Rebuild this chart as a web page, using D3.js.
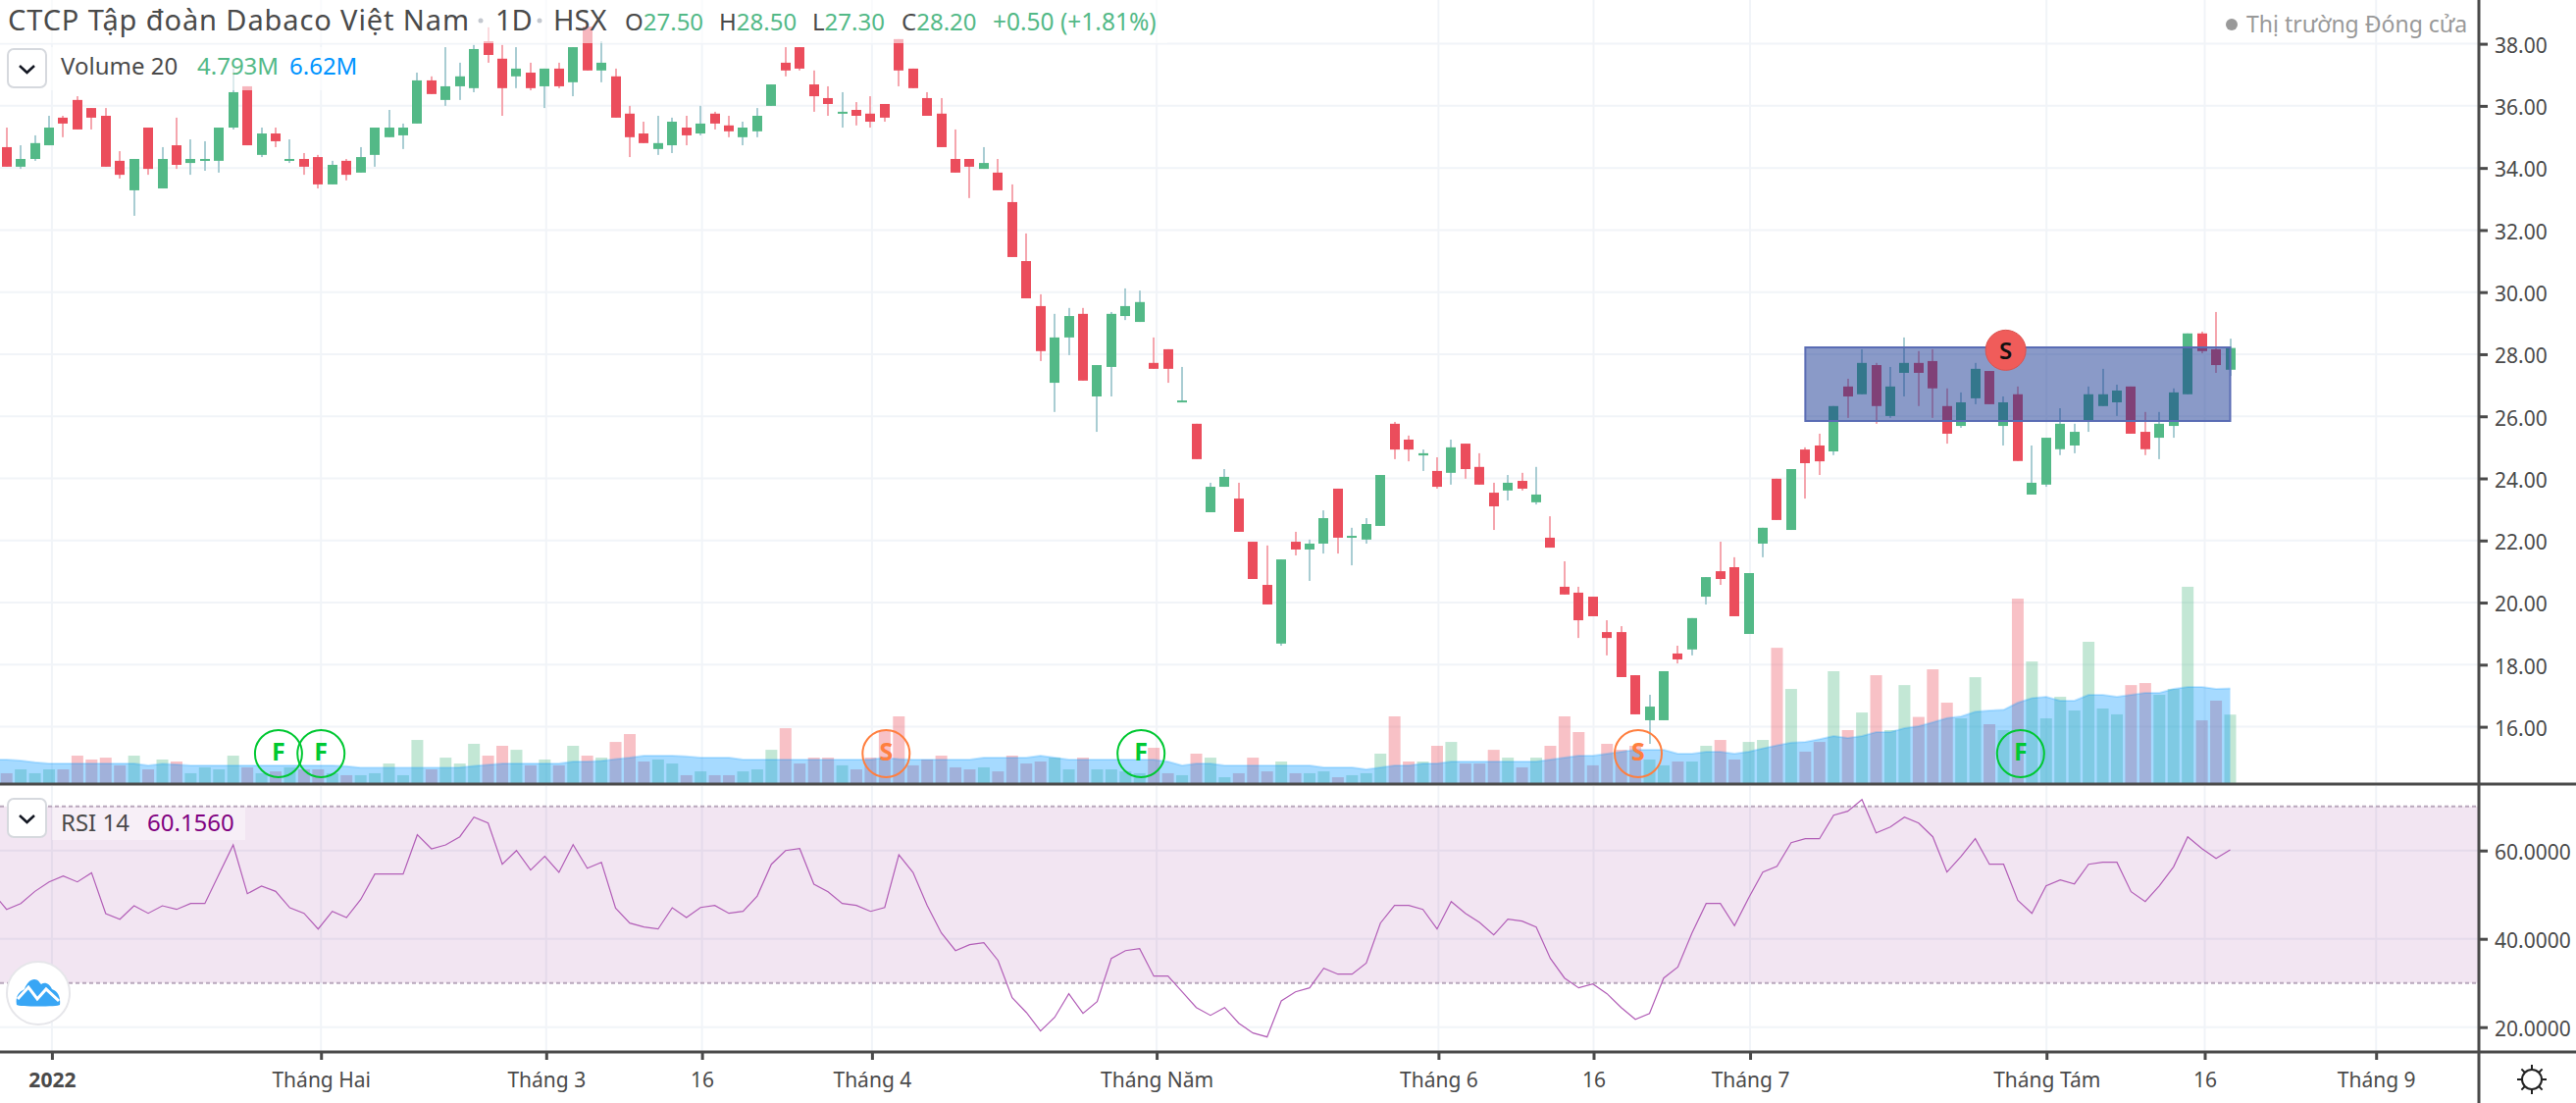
<!DOCTYPE html>
<html>
<head>
<meta charset="utf-8">
<title>DBC</title>
<script src="https://cdn.jsdelivr.net/npm/d3@7/dist/d3.min.js"></script>
<style>
    html, body { margin: 0; padding: 0; background: #fff; }
    svg { display: block; }
    text { font-family: "Noto Sans", sans-serif; }
    .axis path { display: none; }
    .axis line { stroke: #4a4a4a; stroke-width: 3; }
    .axis text { fill: #4a4a4a; font-size: 21px; }
</style>
</head>
<body>
<svg id="chart" width="2626" height="1124"></svg>
<script>
// one entry per session, left to right
const opens = [34.67,34.04,34.29,34.73,35.62,36.19,35.93,35.68,34.23,33.28,35.3,33.34,34.73,34.16,34.23,34.23,35.3,36.63,34.42,35.11,
    34.23,34.29,34.35,33.47,34.23,33.85,34.42,34.99,35.05,35.43,36.82,36.19,36.63,36.57,38.08,37.52,36.95,37.07,36.63,37.2,
    36.76,38.55,37.14,36.95,35.75,35.11,34.61,34.73,35.3,35.11,35.75,35.37,34.99,35.18,36.0,37.39,37.89,36.69,36.25,35.75,
    35.87,35.75,36.06,38.15,37.2,36.25,35.75,34.29,34.29,33.97,33.85,32.9,31.0,29.55,27.08,28.54,29.3,26.64,27.59,29.23,
    29.04,27.72,28.16,26.45,25.76,22.91,23.73,23.35,21.96,20.57,18.68,21.96,21.71,21.9,23.67,22.09,22.03,22.47,25.76,25.25,
    24.74,24.24,24.18,25.12,24.37,23.54,23.61,23.92,23.23,22.09,20.51,20.32,20.19,19.05,19.05,17.66,16.21,16.21,18.36,18.49,
    20.19,21.01,21.14,18.99,21.9,23.99,22.34,24.93,25.06,24.87,26.96,26.71,27.65,26.01,27.4,27.72,27.78,26.33,25.69,26.58,
    27.46,25.69,26.71,23.48,23.8,24.94,25.06,25.88,26.33,26.45,26.96,25.5,25.31,25.69,26.71,28.67,28.16,27.5];
const highs = [35.3,34.73,35.05,35.68,35.68,36.31,35.93,35.93,34.54,34.29,35.3,34.67,35.62,34.92,34.86,35.3,37.2,36.63,35.3,35.3,
    34.92,34.48,34.42,34.23,34.29,34.67,35.3,35.87,35.43,37.07,36.95,37.89,37.39,37.96,38.53,37.96,37.89,37.39,37.2,37.39,
    37.89,38.55,38.08,37.2,36.0,35.49,35.68,35.62,35.68,36.0,35.81,35.68,35.49,35.93,36.69,37.89,37.89,37.14,36.63,36.44,
    36.12,36.31,36.06,38.15,37.2,36.44,36.25,35.24,34.29,34.67,34.29,33.47,31.89,29.93,29.3,29.49,29.49,27.65,29.36,30.12,
    30.05,28.54,28.16,27.59,25.76,23.86,24.3,23.86,21.96,21.84,21.39,22.28,22.03,22.97,23.67,22.41,22.72,24.11,25.82,25.38,
    24.93,24.68,25.25,25.12,24.81,23.86,24.11,24.18,24.37,22.78,21.33,20.51,20.19,19.43,19.24,17.66,17.03,17.79,18.61,19.5,
    20.82,21.96,21.46,20.95,22.41,23.99,24.3,25.0,25.44,26.33,27.21,28.16,27.72,27.59,28.54,28.1,28.16,26.9,26.77,27.72,
    27.46,26.64,26.96,25.06,25.31,26.26,25.76,26.96,27.53,27.02,26.96,26.14,26.14,26.9,28.67,28.73,29.36,28.5];
const lows = [34.04,33.97,34.23,34.73,34.99,35.24,35.24,34.04,33.66,32.46,33.78,33.34,33.97,33.78,33.91,33.85,35.24,34.73,34.35,34.67,
    34.16,33.78,33.34,33.47,33.6,33.85,34.04,34.99,34.61,35.43,36.38,36.0,36.19,36.44,37.39,35.68,36.57,36.5,35.93,36.57,
    36.31,37.14,36.76,35.62,34.35,34.8,34.42,34.48,34.73,35.05,35.24,34.99,34.73,34.99,36.0,36.95,37.14,35.81,35.68,35.3,
    35.37,35.3,35.49,36.63,36.57,35.68,34.67,33.85,33.03,33.97,33.28,31.13,29.8,27.78,26.14,27.97,27.15,25.5,26.64,29.1,
    29.04,27.53,27.08,26.45,24.62,22.91,23.73,22.28,20.76,19.94,18.61,21.52,20.7,21.58,21.58,21.2,21.9,22.47,24.62,24.55,
    24.24,23.67,23.8,23.99,23.8,22.34,23.29,23.61,23.16,21.77,20.26,18.86,19.56,18.3,17.6,16.4,15.45,16.21,18.04,18.3,
    19.94,20.57,19.56,18.99,21.46,22.66,22.34,23.35,24.11,24.75,25.95,26.71,25.76,25.95,26.64,26.33,25.95,25.12,25.63,26.39,
    26.39,25.06,24.56,23.48,23.73,24.75,24.81,25.5,26.33,26.01,25.44,24.75,24.62,25.31,26.71,28.03,27.4,27.3];
const closes = [34.04,34.29,34.8,35.3,35.43,35.24,35.62,34.04,33.78,34.29,33.97,34.29,34.1,34.29,34.29,35.3,36.44,34.73,35.11,34.86,
    34.29,34.04,33.47,34.1,33.78,34.35,35.3,35.3,35.3,36.82,36.38,36.63,36.95,37.83,37.64,36.57,37.2,36.57,37.2,36.63,
    37.89,37.14,37.39,35.62,34.99,34.8,34.8,35.49,35.05,35.43,35.43,35.18,35.3,35.68,36.69,37.14,37.2,36.31,36.06,35.81,
    35.68,35.49,35.62,37.14,36.57,35.68,34.67,33.85,34.04,34.16,33.28,31.13,29.8,28.1,28.54,29.23,27.15,27.65,29.3,29.55,
    29.68,27.53,27.53,26.51,24.62,23.73,24.05,22.28,20.76,19.94,21.39,21.71,21.9,22.72,22.09,22.15,22.53,24.11,24.93,24.93,
    24.81,23.73,25.0,24.3,23.8,23.1,23.86,23.67,23.48,21.77,20.26,19.43,19.56,18.86,17.6,16.4,16.65,17.79,18.17,19.5,
    20.82,20.76,19.56,20.95,22.41,22.66,24.3,24.49,24.55,26.33,26.64,27.72,26.33,26.96,27.72,27.4,26.9,25.44,26.45,27.53,
    26.39,26.45,24.56,23.86,25.31,25.76,25.5,26.71,26.71,26.83,25.44,24.94,25.76,26.77,28.67,28.1,27.65,28.2];
// volume in millions of shares
const volumes = [.69,.96,.69,.96,.96,1.92,1.65,1.78,1.24,1.92,.96,1.65,1.51,.69,1.1,.96,1.92,1.1,.69,.82,
    1.1,.96,.96,.69,.55,.55,.69,1.37,.55,3.02,.96,1.78,1.37,2.75,1.92,2.61,2.33,1.24,1.65,1.24,
    2.61,1.92,1.78,2.88,3.43,1.51,1.65,1.37,.55,.82,.55,.55,.82,.96,2.33,3.84,1.37,1.78,1.78,1.24,
    .96,1.78,3.71,4.67,1.24,1.65,1.92,1.1,.96,1.1,.82,1.92,1.37,1.51,1.78,.96,1.78,.96,.96,.82,
    .69,2.47,.69,.55,2.06,1.78,.41,.69,1.78,.82,1.51,.69,.69,.82,.41,.55,.69,2.06,4.67,1.51,
    1.51,2.61,2.88,1.37,1.37,2.33,1.78,1.1,1.78,2.61,4.67,3.57,1.24,2.75,2.33,2.61,1.65,1.24,1.51,1.51,
    2.61,3.02,1.65,2.88,3.02,9.47,6.59,2.2,2.88,7.83,3.71,4.94,7.55,3.71,6.86,4.63,7.96,5.63,4.53,7.41,
    4.12,3.71,12.91,8.51,4.53,6.04,5.08,9.89,5.22,4.81,6.86,7.0,6.18,6.59,13.74,4.39,5.77,4.793];
const volumeMa = [1.65,1.58,1.46,1.37,1.37,1.37,1.37,1.37,1.37,1.37,1.24,1.35,1.3,1.24,1.24,1.24,1.24,1.24,1.24,1.24,
    1.24,1.24,1.24,1.24,1.19,1.08,1.08,1.08,1.08,1.08,1.08,1.08,1.1,1.21,1.28,1.37,1.37,1.37,1.37,1.37,
    1.51,1.51,1.56,1.69,1.78,1.92,1.92,1.92,1.88,1.78,1.78,1.78,1.65,1.65,1.65,1.65,1.65,1.65,1.65,1.65,
    1.65,1.65,1.78,1.69,1.65,1.65,1.65,1.65,1.65,1.78,1.78,1.78,1.78,1.92,1.78,1.65,1.65,1.65,1.65,1.65,
    1.65,1.65,1.51,1.24,1.37,1.37,1.24,1.24,1.24,1.24,1.24,1.24,1.24,1.1,1.1,1.1,.96,1.1,1.24,1.24,
    1.37,1.37,1.51,1.51,1.51,1.51,1.51,1.51,1.51,1.65,1.78,1.92,1.92,2.06,2.2,2.33,2.33,2.33,2.06,2.06,
    2.2,2.2,2.06,2.2,2.43,2.65,2.84,2.88,3.07,3.3,3.16,3.3,3.57,3.57,3.84,3.98,4.26,4.55,4.67,4.99,
    5.08,5.13,5.63,5.95,6.04,5.77,5.77,6.18,6.18,6.04,6.18,6.32,6.32,6.59,6.73,6.73,6.59,6.62];
// starts one session before the first candle
const rsiValues = [50.5,46.67,48,50.74,52.89,54.22,52.89,54.96,45.7,44.44,47.48,45.78,47.48,46.67,48,48,54.67,61.26,50.22,51.93,50.74,
    47.04,45.78,42.22,46.22,44.81,48.89,54.67,54.67,54.67,63.56,60.37,61.26,63.11,67.56,66.22,56.89,60,55.56,58.67,55.04,
    61.33,56,57.33,46.96,43.56,42.67,42.22,47.04,44.81,47.11,47.56,45.78,46.22,49.7,56.89,60,60.44,52.37,50.67,48,
    47.56,46.22,47.11,59.04,55.04,47.56,41.33,37.33,38.67,39.11,35.11,26.67,23.33,19.11,22.22,27.56,23.11,25.78,35.56,37.33,
    37.78,31.56,31.56,28,24.44,22.67,24.44,20.89,18.67,17.78,25.93,28,28.89,33.33,32,32,34.52,43.56,47.56,47.56,
    46.67,42.22,48.44,45.78,43.7,40.89,44.44,44,42.67,35.56,31.11,28.89,29.78,27.56,24.44,21.78,23.11,31.11,33.63,41.33,
    48,48,42.96,49.26,55.11,56.44,61.78,62.67,62.67,68,68.89,71.56,64,65.33,67.56,66.22,63.11,55.11,58.67,62.67,
    56.89,56.89,48.74,45.78,52,53.33,52.44,56.89,57.33,57.33,50.67,48.44,52,56.3,63.11,60.44,58.22,60.156];

const priceTicks = [38,36,34,32,30,28,26,24,22,20,18,16];
const rsiTicks = [60,40,20];
const timeTicks = [3.2,22.2,38.1,49.1,61.1,81.2,101.1,112.05,123.1,144.03,155.2,167.3];
const timeLabels = ['2022','Tháng Hai','Tháng 3','16','Tháng 4','Tháng Năm','Tháng 6','16','Tháng 7','Tháng Tám','16','Tháng 9'];

// session, letter
const eventMarks = [[19.2,'F'],[22.2,'F'],[62.1,'S'],[80.1,'F'],[115.2,'S'],[142.2,'F']];
const zoneSessions = [127,157];
const zonePrices = [28.22,25.85];
const zoneMarkSession = 141.15;
const zoneMarkPrice = 28.13;

const UP = '#53b987', DOWN = '#eb4d5c', UP_WICK = '#a9cdd3', DOWN_WICK = '#f5a6ae';
const GRID = '#f1f4f8', LINE = '#4a4a4a';
const paneRight = 2527, paneBottom = 798, rsiTop = 801, rsiBottom = 1072;

const sessions = d3.range(opens.length);
const svg = d3.select('#chart');

const x = d3.scaleLinear().domain([0,157]).range([6.7,2273.5]);
const y = d3.scaleLinear().domain([38,16]).range([44.6,740.6]);
const yVolume = d3.scaleLinear().domain([0,10]).range([paneBottom,paneBottom - 145.6]);
const yRsi = d3.scaleLinear().domain([60,20]).range([866.7,1046.7]);

const defs = svg.append('defs');
defs.append('clipPath').attr('id','price-clip').append('rect')
    .attr('width',paneRight).attr('height',paneBottom);
defs.append('clipPath').attr('id','rsi-clip').append('rect')
    .attr('y',rsiTop).attr('width',paneRight).attr('height',rsiBottom - rsiTop);

function drawGrid(group, ticks, scale, top, bottom) {
    group.selectAll('line.h')
        .data(ticks)
        .join('line')
        .attr('class','h')
        .attr('x1',0).attr('x2',paneRight)
        .attr('y1',function (d) { return scale(d); })
        .attr('y2',function (d) { return scale(d); })
        .attr('stroke',GRID).attr('stroke-width',2);
    group.selectAll('line.v')
        .data(timeTicks)
        .join('line')
        .attr('class','v')
        .attr('x1',function (d) { return x(d); })
        .attr('x2',function (d) { return x(d); })
        .attr('y1',top).attr('y2',bottom)
        .attr('stroke',GRID).attr('stroke-width',2);
}

// price pane
const pricePane = svg.append('g').attr('clip-path','url(#price-clip)');
drawGrid(pricePane.append('g'),priceTicks,y,0,paneBottom);

pricePane.append('g')
    .selectAll('rect')
    .data(sessions)
    .join('rect')
    .attr('x',function (d) { return x(d) - 6; })
    .attr('width',12)
    .attr('y',function (d) { return yVolume(volumes[d]); })
    .attr('height',function (d) { return paneBottom - yVolume(volumes[d]); })
    .attr('fill',function (d) { return closes[d] >= opens[d] ? UP : DOWN; })
    .attr('fill-opacity',.35);

// the average runs out to the pane edge on the left, at its first value
const maPoints = [[x.invert(0),volumeMa[0]]].concat(sessions.map(function (d) { return [d,volumeMa[d]]; }));
pricePane.append('path')
    .datum(maPoints)
    .attr('d',d3.area()
        .x(function (d) { return x(d[0]); })
        .y0(paneBottom)
        .y1(function (d) { return yVolume(d[1]); }))
    .attr('fill','#0094ff').attr('fill-opacity',.35);
pricePane.append('path')
    .datum(maPoints)
    .attr('d',d3.line()
        .x(function (d) { return x(d[0]); })
        .y(function (d) { return yVolume(d[1]); }))
    .attr('fill','none').attr('stroke','#0094ff').attr('stroke-opacity',.2).attr('stroke-width',2);

const candles = pricePane.append('g')
    .selectAll('g')
    .data(sessions)
    .join('g');
candles.append('rect')
    .attr('x',function (d) { return Math.round(x(d)) - 1; })
    .attr('width',2)
    .attr('y',function (d) { return y(highs[d]); })
    .attr('height',function (d) { return y(lows[d]) - y(highs[d]); })
    .attr('fill',function (d) { return closes[d] >= opens[d] ? UP_WICK : DOWN_WICK; });
candles.append('rect')
    .attr('x',function (d) { return Math.round(x(d)) - 5; })
    .attr('width',10)
    .attr('y',function (d) { return y(Math.max(opens[d],closes[d])); })
    .attr('height',function (d) { return Math.max(2,Math.abs(y(opens[d]) - y(closes[d]))); })
    .attr('fill',function (d) { return closes[d] >= opens[d] ? UP : DOWN; });

// consolidation zone
pricePane.append('rect')
    .attr('x',x(zoneSessions[0]))
    .attr('y',y(zonePrices[0]))
    .attr('width',x(zoneSessions[1]) - x(zoneSessions[0]))
    .attr('height',y(zonePrices[1]) - y(zonePrices[0]))
    .attr('fill','rgb(21,53,145)').attr('fill-opacity',.5)
    .attr('stroke','#5a6cb4').attr('stroke-width',2);

pricePane.append('circle')
    .attr('cx',x(zoneMarkSession)).attr('cy',y(zoneMarkPrice)).attr('r',20.5)
    .attr('fill','#f05c5a').attr('stroke','#d9534f').attr('stroke-width',1);
pricePane.append('text')
    .attr('x',x(zoneMarkSession)).attr('y',y(zoneMarkPrice) + 9)
    .attr('text-anchor','middle').attr('font-size',24).attr('font-weight',600).attr('fill','#111')
    .text('S');

const marks = pricePane.append('g')
    .selectAll('g')
    .data(eventMarks)
    .join('g')
    .attr('transform',function (d) { return 'translate(' + x(d[0]) + ',768)'; });
marks.append('ellipse')
    .attr('rx',24).attr('ry',24)
    .attr('fill','none')
    .attr('stroke',function (d) { return d[1] === 'F' ? '#00c832' : '#ff7f3f'; })
    .attr('stroke-width',2);
marks.append('text')
    .attr('text-anchor','middle').attr('y',7)
    .attr('font-size',25).attr('font-weight',700)
    .attr('fill',function (d) { return d[1] === 'F' ? '#00c832' : '#ff7f3f'; })
    .text(function (d) { return d[1]; });

// rsi pane
const rsiPane = svg.append('g').attr('clip-path','url(#rsi-clip)');
drawGrid(rsiPane.append('g'),rsiTicks,yRsi,rsiTop,rsiBottom);
rsiPane.append('rect')
    .attr('x',0).attr('width',paneRight)
    .attr('y',yRsi(70)).attr('height',yRsi(30) - yRsi(70))
    .attr('fill','#800080').attr('fill-opacity',.1);
rsiPane.selectAll('line.band')
    .data([70,30])
    .join('line')
    .attr('class','band')
    .attr('x1',0).attr('x2',paneRight)
    .attr('y1',function (d) { return yRsi(d); })
    .attr('y2',function (d) { return yRsi(d); })
    .attr('stroke','#b9a8bc').attr('stroke-width',2).attr('stroke-dasharray','4 3');
rsiPane.append('path')
    .datum(rsiValues)
    .attr('d',d3.line()
        .x(function (d, i) { return x(i - 1); })
        .y(function (d) { return yRsi(d); }))
    .attr('fill','none').attr('stroke','#b25eb7').attr('stroke-width',1.2);

// pane borders and axes
const priceAxis = svg.append('g')
    .attr('class','axis')
    .attr('transform','translate(' + paneRight + ',0)')
    .call(d3.axisRight(y).tickValues(priceTicks).tickFormat(d3.format('.2f')).tickSize(9).tickPadding(7));
const rsiAxis = svg.append('g')
    .attr('class','axis')
    .attr('transform','translate(' + paneRight + ',0)')
    .call(d3.axisRight(yRsi).tickValues(rsiTicks).tickFormat(d3.format('.4f')).tickSize(9).tickPadding(7));
priceAxis.selectAll('text').attr('dy','.42em');
rsiAxis.selectAll('text').attr('dy','.42em');
const timeAxis = svg.append('g')
    .attr('class','axis')
    .attr('transform','translate(0,' + rsiBottom + ')')
    .call(d3.axisBottom(x).tickValues(timeTicks)
        .tickFormat(function (d, i) { return timeLabels[i]; })
        .tickSize(8).tickPadding(13));
timeAxis.selectAll('text').filter(function (d, i) { return i === 0; }).attr('font-weight',700);

svg.append('line').attr('x1',0).attr('x2',2626).attr('y1',paneBottom + 1).attr('y2',paneBottom + 1)
    .attr('stroke',LINE).attr('stroke-width',3);
svg.append('line').attr('x1',0).attr('x2',2626).attr('y1',rsiBottom).attr('y2',rsiBottom)
    .attr('stroke',LINE).attr('stroke-width',3);
svg.append('line').attr('x1',paneRight).attr('x2',paneRight).attr('y1',0).attr('y2',1124)
    .attr('stroke',LINE).attr('stroke-width',3);

// legends
svg.append('rect').attr('x',0).attr('y',0).attr('width',1190).attr('height',44)
    .attr('fill','#fff').attr('fill-opacity',.6);
svg.append('rect').attr('x',52).attr('y',48).attr('width',320).attr('height',44)
    .attr('fill','#fff').attr('fill-opacity',.6);
svg.append('rect').attr('x',53).attr('y',823).attr('width',197).attr('height',33)
    .attr('fill','#fff').attr('fill-opacity',.4);

function addText(px, py, size, color, content) {
    return svg.append('text').attr('x',px).attr('y',py)
        .attr('font-size',size).attr('fill',color).text(content);
}

addText(8,31,29,'#4a4a4a','CTCP Tập đoàn Dabaco Việt Nam')
    .attr('textLength',470).attr('lengthAdjust','spacing');
svg.selectAll('circle.sep')
    .data([490,550])
    .join('circle')
    .attr('class','sep')
    .attr('cx',function (d) { return d; })
    .attr('cy',21).attr('r',2.5).attr('fill','#c4c8cf');
addText(505,31,29,'#4a4a4a','1D');
addText(564,31,29,'#4a4a4a','HSX');
const ohlc = [[637,'O','27.50'],[733,'H','28.50'],[828,'L','27.30'],[919,'C','28.20']];
ohlc.forEach(function (d) {
    const label = addText(d[0],31,24,'#4a4a4a',d[1]);
    label.append('tspan').attr('fill',UP).text(d[2]);
});
addText(1012,31,24.5,UP,'+0.50 (+1.81%)');

svg.append('circle').attr('cx',2275).attr('cy',25).attr('r',6).attr('fill','#999');
addText(2290,33,23,'#999','Thị trường Đóng cửa');

addText(62,76,24,'#4a4a4a','Volume 20');
addText(201,76,24,UP,'4.793M');
addText(295,76,24,'#0094ff','6.62M');
addText(62,847,24,'#4a4a4a','RSI 14');
addText(150,847,24,'#800080','60.1560');

function drawChevronButton(top) {
    svg.append('rect')
        .attr('x',8).attr('y',top).attr('width',39).attr('height',39).attr('rx',6)
        .attr('fill','#fff').attr('stroke','#d6d9de').attr('stroke-width',2);
    svg.append('path')
        .attr('d','M20 ' + (top + 17) + 'L27.5 ' + (top + 24) + 'L35 ' + (top + 17))
        .attr('fill','none').attr('stroke','#131722').attr('stroke-width',2.5);
}
drawChevronButton(50);
drawChevronButton(814);

// logo button
const logo = svg.append('g').attr('transform','translate(39,1012)');
logo.append('circle').attr('r',32).attr('fill','#fff').attr('stroke','#e6e6ea').attr('stroke-width',2);
logo.append('path')
    .attr('d','M-22 12C-24 2 -18 -2 -14 -4C-12 -10 -8 -14 -4 -14C0 -14 1 -11 3 -9C7 -12 12 -9 14 -4C20 -2 23 4 22 12C20 14 -20 14 -22 12Z')
    .attr('fill','#38a6f5');
logo.append('path')
    .attr('d','M-21 6L-10 -6L-1 6L8 -4L21 8')
    .attr('fill','none').attr('stroke','#fff').attr('stroke-width',3);

// settings gear
const gear = svg.append('g').attr('transform','translate(2581,1100)');
gear.append('circle').attr('r',10).attr('fill','#fff').attr('stroke','#222').attr('stroke-width',2);
gear.selectAll('line')
    .data(d3.range(8))
    .join('line')
    .attr('x1',function (d) { return 10 * Math.cos(d * Math.PI / 4); })
    .attr('y1',function (d) { return 10 * Math.sin(d * Math.PI / 4); })
    .attr('x2',function (d) { return 15 * Math.cos(d * Math.PI / 4); })
    .attr('y2',function (d) { return 15 * Math.sin(d * Math.PI / 4); })
    .attr('stroke','#222').attr('stroke-width',2);
</script>
</body>
</html>
